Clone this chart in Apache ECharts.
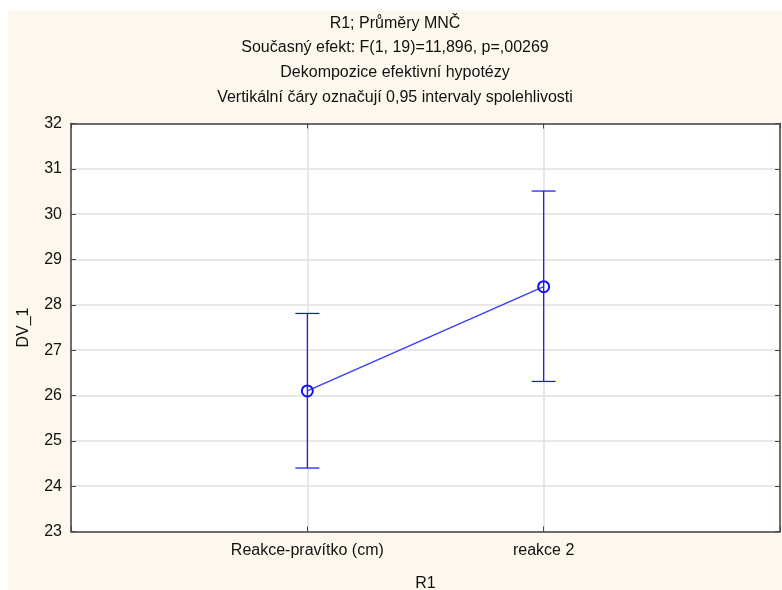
<!DOCTYPE html>
<html>
<head>
<meta charset="utf-8">
<script src="https://cdn.jsdelivr.net/npm/echarts@6/dist/echarts.min.js"></script>
<style>
html,body{margin:0;padding:0;background:#ffffff;}
#chart{position:absolute;left:8px;top:10px;width:774px;height:580px;}
</style>
</head>
<body>
<div id="chart"></div>
<script>
var categories = ['Reakce-pravítko (cm)', 'reakce 2'];
var means = [26.1, 28.4];
var lowerCI = [24.4, 26.31];
var upperCI = [27.81, 30.51];
var yTicks = [23, 24, 25, 26, 27, 28, 29, 30, 31, 32];
var titleLines = [
  'R1; Průměry MNČ',
  'Současný efekt: F(1, 19)=11,896, p=,00269',
  'Dekompozice efektivní hypotézy',
  'Vertikální čáry označují 0,95 intervaly spolehlivosti'
];

var axisCats = [''].concat(categories).concat(['']);
var lineData = means.map(function (v, i) { return [i + 1, v]; });
var errData = means.map(function (v, i) { return [i + 1, lowerCI[i], upperCI[i]]; });
var FONT = '"Liberation Sans", Arial, sans-serif';
var BLUE = '#1010ff';
var FS = 16;

var chart = echarts.init(document.getElementById('chart'));
chart.setOption({
  backgroundColor: '#fdf8ee',
  animation: false,
  title: {
    text: titleLines.join('\n'),
    left: 'center',
    top: 1,
    padding: 0,
    textStyle: { fontFamily: FONT, fontSize: FS, fontWeight: 'normal', color: '#111', lineHeight: 24.6 }
  },
  grid: { left: 63, right: 2, top: 113.5, bottom: 58.5, show: true, backgroundColor: '#ffffff', borderWidth: 0, containLabel: false, outerBoundsMode: 'none' },
  xAxis: [{
    type: 'category',
    data: axisCats,
    boundaryGap: false,
    position: 'bottom',
    name: 'R1',
    nameLocation: 'middle',
    nameGap: 44,
    nameTextStyle: { fontFamily: FONT, fontSize: FS, color: '#111' },
    axisLine: { lineStyle: { color: '#444', width: 1.5 } },
    axisTick: { inside: true, length: 5, lineStyle: { color: '#444' } },
    axisLabel: { fontFamily: FONT, fontSize: FS, color: '#111', margin: 11, interval: 0 },
    splitLine: { show: true, lineStyle: { color: '#e0e0e0', width: 1.5 } }
  }, {
    type: 'category',
    data: axisCats,
    boundaryGap: false,
    position: 'top',
    axisLine: { lineStyle: { color: '#444', width: 1.5 } },
    axisTick: { inside: true, length: 5, lineStyle: { color: '#444' } },
    axisLabel: { show: false },
    splitLine: { show: false }
  }],
  yAxis: [{
    type: 'value',
    min: yTicks[0],
    max: yTicks[yTicks.length - 1],
    interval: 1,
    position: 'left',
    name: 'DV_1',
    nameLocation: 'middle',
    nameGap: 39,
    nameTextStyle: { fontFamily: FONT, fontSize: FS, color: '#111' },
    axisLine: { show: true, lineStyle: { color: '#444', width: 1.5 } },
    axisTick: { show: true, inside: true, length: 5, lineStyle: { color: '#444' } },
    axisLabel: { fontFamily: FONT, fontSize: FS, color: '#111', margin: 9 },
    splitLine: { show: true, lineStyle: { color: '#e0e0e0', width: 1.5 } }
  }, {
    type: 'value',
    min: yTicks[0],
    max: yTicks[yTicks.length - 1],
    interval: 1,
    position: 'right',
    axisLine: { show: true, lineStyle: { color: '#444', width: 1.5 } },
    axisTick: { show: true, inside: true, length: 5, lineStyle: { color: '#444' } },
    axisLabel: { show: false },
    splitLine: { show: false }
  }],
  series: [{
    type: 'custom',
    xAxisIndex: 0,
    yAxisIndex: 0,
    data: errData,
    z: 3,
    renderItem: function (params, api) {
      var x = api.value(0);
      var lo = api.coord([x, api.value(1)]);
      var hi = api.coord([x, api.value(2)]);
      var w = 12;
      var st = { stroke: BLUE, lineWidth: 1.2 };
      return {
        type: 'group',
        children: [
          { type: 'line', shape: { x1: lo[0], y1: lo[1], x2: hi[0], y2: hi[1] }, style: st },
          { type: 'line', shape: { x1: lo[0] - w, y1: lo[1], x2: lo[0] + w, y2: lo[1] }, style: st },
          { type: 'line', shape: { x1: hi[0] - w, y1: hi[1], x2: hi[0] + w, y2: hi[1] }, style: st }
        ]
      };
    }
  }, {
    type: 'line',
    xAxisIndex: 0,
    yAxisIndex: 0,
    data: lineData,
    z: 4,
    symbol: 'circle',
    symbolSize: 11,
    showSymbol: true,
    lineStyle: { color: '#3a3aff', width: 1.3 },
    itemStyle: { color: 'rgba(0,0,0,0)', borderColor: BLUE, borderWidth: 2 }
  }]
});
</script>
</body>
</html>
